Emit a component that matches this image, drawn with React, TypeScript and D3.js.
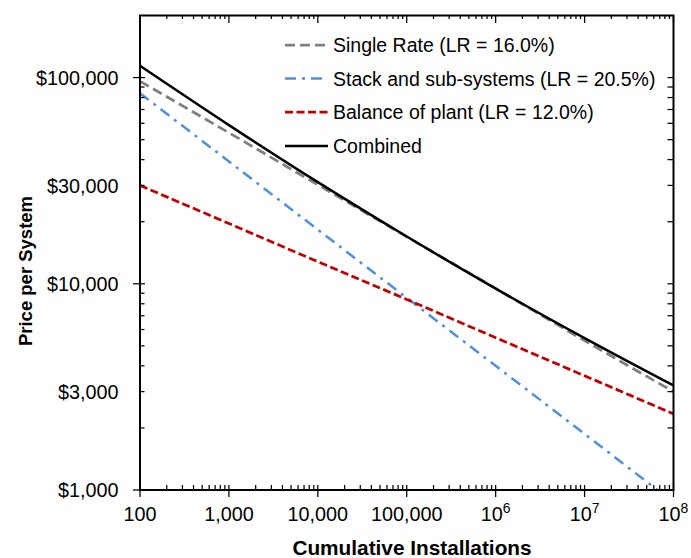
import React, { useEffect, useRef } from 'react';
import * as d3 from 'd3';

// values, one point per decade
const installs = [100, 1e3, 1e4, 1e5, 1e6, 1e7, 1e8];
const singleRate = [96000, 54000, 30200, 16900, 9500, 5300, 3000];
const stackSub = [84000, 39200, 18300, 8550, 4000, 1870, 870];
const balancePlant = [30000, 19600, 12800, 8400, 5480, 3580, 2340];
const combined = [114000, 58800, 31100, 16950, 9480, 5450, 3210];

const seriesNames = [
  'Single Rate (LR = 16.0%)',
  'Stack and sub-systems (LR = 20.5%)',
  'Balance of plant (LR = 12.0%)',
  'Combined',
];

const yTicks = [1000, 3000, 10000, 30000, 100000];
const yTickLabels = ['$1,000', '$3,000', '$10,000', '$30,000', '$100,000'];
const xTicks = [100, 1e3, 1e4, 1e5, 1e6, 1e7, 1e8];
const xTickLabels = ['100', '1,000', '10,000', '100,000', '10^6', '10^7', '10^8'];

const FONT = '"Liberation Sans", Arial, sans-serif';

const App = () => {
  const ref = useRef<SVGSVGElement>(null);

  useEffect(() => {
    const svg = d3.select(ref.current);
    svg.selectAll('*').remove();

    const left = 140, right = 673.5, top = 15.5, bottom = 490;

    const x = d3.scaleLog().domain([100, 1e8]).range([left, right]);
    const y = d3.scaleLog().domain([1000, 200000]).range([bottom, top]);

    svg.append('clipPath').attr('id', 'plot-clip')
      .append('rect')
      .attr('x', left).attr('y', top)
      .attr('width', right - left).attr('height', bottom - top);

    // series
    const series = [
      { vals: singleRate, color: '#808080', dash: '10,5', width: 2.75 },
      { vals: stackSub, color: '#4f8fdc', dash: '11,6,3,6', width: 2.5 },
      { vals: balancePlant, color: '#c00000', dash: '8,3.5', width: 2.75 },
      { vals: combined, color: '#000000', dash: null, width: 2.5 },
    ];

    const lineGen = d3.line<number>()
      .x((d, i) => x(installs[i]))
      .y((d) => y(d))
      .curve(d3.curveMonotoneX);

    const g = svg.append('g').attr('clip-path', 'url(#plot-clip)');
    series.forEach((s) => {
      g.append('path')
        .attr('d', lineGen(s.vals))
        .attr('fill', 'none')
        .attr('stroke', s.color)
        .attr('stroke-width', s.width)
        .attr('stroke-dasharray', s.dash)
        .attr('stroke-linejoin', 'round');
    });

    // frame
    svg.append('rect')
      .attr('x', left).attr('y', top)
      .attr('width', right - left).attr('height', bottom - top)
      .attr('fill', 'none').attr('stroke', '#000').attr('stroke-width', 2);

    const tickG = svg.append('g').attr('stroke', '#000').attr('stroke-width', 1.25);

    // x ticks
    xTicks.forEach((v) => {
      tickG.append('line').attr('x1', x(v)).attr('x2', x(v)).attr('y1', bottom - 5).attr('y2', bottom + 7);
      tickG.append('line').attr('x1', x(v)).attr('x2', x(v)).attr('y1', top).attr('y2', top + 7.5);
    });
    for (let d = 100; d < 1e8; d *= 10) {
      for (let m = 2; m <= 9; m++) {
        const xv = x(d * m);
        tickG.append('line').attr('x1', xv).attr('x2', xv).attr('y1', bottom).attr('y2', bottom - 5);
        tickG.append('line').attr('x1', xv).attr('x2', xv).attr('y1', top).attr('y2', top + 3.5);
      }
    }

    // y ticks
    [1000, 10000, 100000].forEach((v) => {
      tickG.append('line').attr('x1', left - 7).attr('x2', left + 5).attr('y1', y(v)).attr('y2', y(v));
      tickG.append('line').attr('x1', right - 6).attr('x2', right).attr('y1', y(v)).attr('y2', y(v));
    });
    for (let d = 1000; d < 200000; d *= 10) {
      for (let m = 2; m <= 9; m++) {
        if (d * m >= 200000) continue;
        const yv = y(d * m);
        tickG.append('line').attr('x1', left).attr('x2', left + 4.5).attr('y1', yv).attr('y2', yv);
        tickG.append('line').attr('x1', right - 6).attr('x2', right).attr('y1', yv).attr('y2', yv);
      }
    }

    // y tick labels
    yTicks.forEach((v, i) => {
      svg.append('text')
        .attr('x', 118.5).attr('y', y(v)).attr('dy', '0.36em')
        .attr('text-anchor', 'end')
        .attr('font-family', FONT).attr('font-size', 19.8)
        .attr('fill', '#000')
        .text(yTickLabels[i]);
    });

    // x tick labels
    xTicks.forEach((v, i) => {
      const t = svg.append('text')
        .attr('x', x(v)).attr('y', 521)
        .attr('text-anchor', 'middle')
        .attr('font-family', FONT).attr('font-size', 19.8)
        .attr('fill', '#000');
      const parts = xTickLabels[i].split('^');
      t.append('tspan').text(parts[0]);
      if (parts.length > 1) {
        t.append('tspan').attr('dy', -8).attr('font-size', 14).text(parts[1]);
      }
    });

    // axis titles
    svg.append('text')
      .attr('x', 412).attr('y', 555)
      .attr('text-anchor', 'middle')
      .attr('font-family', FONT).attr('font-size', 20.8).attr('font-weight', 'bold')
      .text('Cumulative Installations');

    svg.append('text')
      .attr('transform', 'translate(32,271) rotate(-90)')
      .attr('text-anchor', 'middle')
      .attr('font-family', FONT).attr('font-size', 18.5).attr('font-weight', 'bold')
      .text('Price per System');

    // legend
    const legendY = [45, 78.5, 112, 146];
    series.forEach((s, i) => {
      svg.append('line')
        .attr('x1', 285).attr('x2', 328)
        .attr('y1', legendY[i]).attr('y2', legendY[i])
        .attr('stroke', s.color)
        .attr('stroke-width', s.width)
        .attr('stroke-dasharray', s.dash);
      svg.append('text')
        .attr('x', 333).attr('y', legendY[i]).attr('dy', '0.36em')
        .attr('font-family', FONT).attr('font-size', 19.5)
        .attr('fill', '#000')
        .text(seriesNames[i]);
    });
  }, []);

  return (
    <svg
      ref={ref}
      width={691}
      height={558}
      style={{ position: 'absolute', left: 0, top: 0, background: '#fff' }}
    />
  );
};

export default App;
